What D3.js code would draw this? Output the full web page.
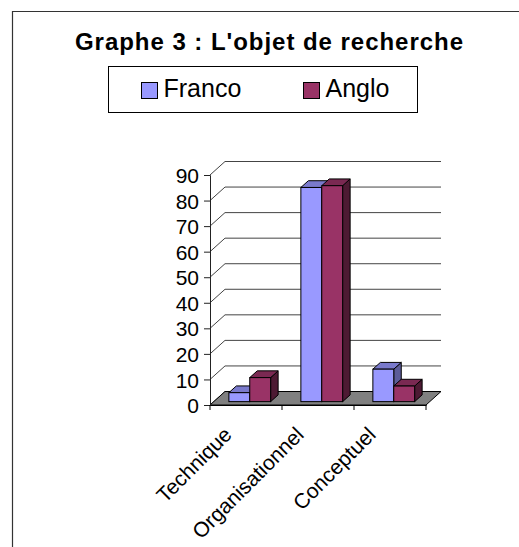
<meta charset="utf-8">
<title>Graphe 3</title>
<style>
  body { margin: 0; background: #fff; }
  text { font-family: "Liberation Sans", Arial, sans-serif; fill: #000; }
</style>
<body>
<script src="https://cdn.jsdelivr.net/npm/d3@7"></script>
<script>

// data
var categories = ['Technique', 'Organisationnel', 'Conceptuel'];
var seriesNames = ['Franco', 'Anglo'];
var franco = [3.5, 83.8, 12.7];
var anglo = [9.4, 84.5, 6.1];
var yTicks = [0, 10, 20, 30, 40, 50, 60, 70, 80, 90];

var width = 519, height = 547;
var front = { left: 210, right: 426, bottom: 405, top: 175 };
var depth = { dx: 15, dy: -13.5 };   // full depth of the 3d box

var colors = {
  Franco: { face: '#9999ff', top: '#7a7acc', side: '#5c5c99' },
  Anglo:  { face: '#993366', top: '#7a2952', side: '#4d1a33' }
};

var svg = d3.select('body').append('svg')
    .attr('width', width)
    .attr('height', height);

// frame (top + left only)
svg.append('path')
    .attr('d', 'M12.5,' + height + 'V11.5H' + width)
    .attr('fill', 'none')
    .attr('stroke', '#333')
    .attr('stroke-width', 1.2);

// title
svg.append('text')
    .attr('x', 75).attr('y', 50)
    .attr('textLength', 388).attr('lengthAdjust', 'spacing')
    .style('font-size', '24px').style('font-weight', 'bold')
    .text("Graphe 3 : L'objet de recherche");

// legend
var leg = svg.append('g');
leg.append('rect')
    .attr('x', 108.5).attr('y', 66.5).attr('width', 309).attr('height', 46)
    .attr('fill', '#fff').attr('stroke', '#000');
var legX = [141.5, 303.5];
seriesNames.forEach(function(s, i) {
  leg.append('rect')
      .attr('x', legX[i]).attr('y', 82.5).attr('width', 16).attr('height', 16)
      .attr('fill', colors[s].face).attr('stroke', '#000');
  leg.append('text')
      .attr('x', legX[i] + 22).attr('y', 96.5)
      .style('font-size', '25px')
      .text(s);
});

// scales
var y = d3.scaleLinear().domain([0, 90]).range([front.bottom, front.top]);
var x0 = d3.scaleBand().domain(categories).range([front.left, front.right])
    .paddingInner(0.42).paddingOuter(0.21);
var x1 = d3.scaleBand().domain(seriesNames).range([0, x0.bandwidth()]);

function P(x, yy, t) { return [x + depth.dx * t, yy + depth.dy * t]; }
function poly(pts) { return 'M' + pts.map(function(p) { return p.join(','); }).join('L') + 'Z'; }

// walls: gridlines
var grid = svg.append('g');
yTicks.forEach(function(v) {
  var a = P(front.left, y(v), 0), b = P(front.left, y(v), 1), c = P(front.right, y(v), 1);
  grid.append('line')
      .attr('x1', b[0]).attr('y1', b[1]).attr('x2', c[0]).attr('y2', c[1])
      .attr('stroke', '#444').attr('stroke-width', 1);
  grid.append('line')
      .attr('x1', a[0]).attr('y1', a[1]).attr('x2', b[0]).attr('y2', b[1])
      .attr('stroke', '#444').attr('stroke-width', 1);
});

// floor
svg.append('path')
    .attr('d', poly([P(front.left, y(0), 0), P(front.right, y(0), 0),
                     P(front.right, y(0), 1), P(front.left, y(0), 1)]))
    .attr('fill', '#808080').attr('stroke', '#000').attr('stroke-width', 1);

// bars
var rows = [];
categories.forEach(function(c, i) {
  rows.push({ cat: c, s: 'Franco', v: franco[i] });
  rows.push({ cat: c, s: 'Anglo', v: anglo[i] });
});
var t0 = 0.25, t1 = 0.75;
var bars = svg.append('g').selectAll('g').data(rows).enter().append('g');
bars.each(function(d) {
  var g = d3.select(this);
  var xl = x0(d.cat) + x1(d.s), xr = xl + x1.bandwidth();
  var yb = y(0), yt = y(d.v);
  var col = colors[d.s];
  // side
  g.append('path')
      .attr('d', poly([P(xr, yb, t0), P(xr, yb, t1), P(xr, yt, t1), P(xr, yt, t0)]))
      .attr('fill', col.side).attr('stroke', '#000').attr('stroke-linejoin', 'round');
  // top
  g.append('path')
      .attr('d', poly([P(xl, yt, t0), P(xr, yt, t0), P(xr, yt, t1), P(xl, yt, t1)]))
      .attr('fill', col.top).attr('stroke', '#000').attr('stroke-linejoin', 'round');
  // front
  var f = P(xl, yt, t0), fb = P(xr, yb, t0);
  g.append('rect')
      .attr('x', f[0]).attr('y', f[1]).attr('width', fb[0] - f[0]).attr('height', fb[1] - f[1])
      .attr('fill', col.face).attr('stroke', '#000');
});

// y axis
var yAxis = svg.append('g')
    .attr('transform', 'translate(' + front.left + ',0)')
    .call(d3.axisLeft(y).tickValues(yTicks).tickSize(6).tickPadding(5));
yAxis.select('.domain').attr('stroke', '#222');
yAxis.selectAll('.tick line').attr('stroke', '#222');
yAxis.selectAll('text')
    .style('font-size', '21px')
    .attr('font-family', null)
    .attr('dy', '0.36em');

// x axis
var xAxis = svg.append('g')
    .attr('transform', 'translate(0,' + front.bottom + ')')
    .call(d3.axisBottom(x0).tickSize(0).tickFormat(''));
xAxis.select('.domain').attr('stroke', '#000');
var xTicks = d3.range(categories.length + 1).map(function(i) {
  return front.left + i * x0.step();
});
xAxis.selectAll('.cat-tick').data(xTicks).enter().append('line')
    .attr('x1', function(d) { return d; }).attr('x2', function(d) { return d; })
    .attr('y1', 0).attr('y2', 5)
    .attr('stroke', '#000');

svg.append('g').selectAll('text').data(categories).enter().append('text')
    .attr('transform', function(d) {
      var cx = x0(d) + x0.bandwidth() / 2;
      return 'translate(' + (cx - 13) + ',' + (front.bottom + 31) + ') rotate(-45)';
    })
    .attr('text-anchor', 'end')
    .style('font-size', '21px')
    .text(function(d) { return d; });

</script>
